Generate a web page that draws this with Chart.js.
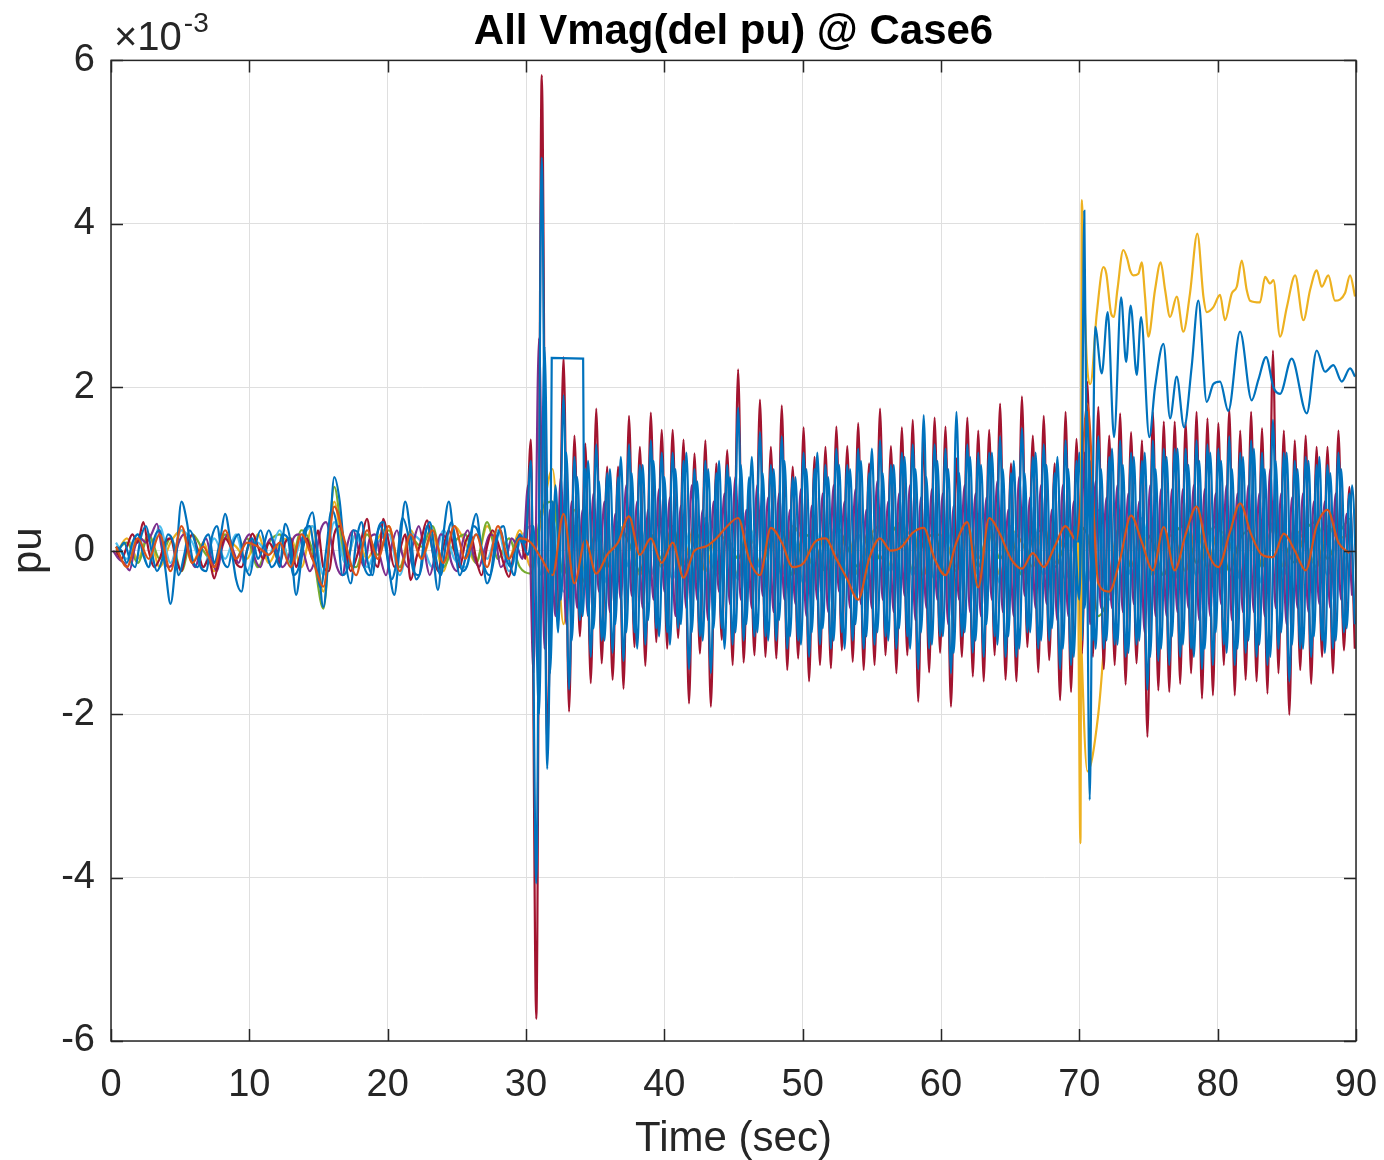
<!DOCTYPE html>
<html>
<head>
<meta charset="utf-8">
<script src="https://cdn.jsdelivr.net/npm/chart.js@4.4.1/dist/chart.umd.min.js"></script>
<style>
html, body { margin: 0; padding: 0; background: #fff; }
canvas { display: block; }
</style>
</head>
<body>
<canvas id="chart" width="1384" height="1160"></canvas>
<script>
// bus voltage deviations, in units of 1e-3 pu

// sample grids (sec)
const fastStep = 0.3945;   // half period of the ~1.27 Hz swing
const slowStep = 0.789;
const preStart = 0.36;
const burstStart = 30.35;
const swingStart = 33.5;

const xTicks = [0, 10, 20, 30, 40, 50, 60, 70, 80, 90];
const yTicks = [-6, -4, -2, 0, 2, 4, 6];

// dark red bus
const redPre = [
  0.0, -0.1, 0.05, 0.2, 0.1, 0.35, 0.0, -0.2, -0.1, 0.1,
  0.15, -0.1, -0.25, 0.05, 0.2, 0.0, -0.2, -0.1, -0.34, -0.05,
  0.15, 0.05, -0.15, -0.2, 0.0, 0.21, 0.05, -0.1, 0.1, 0.0,
  -0.15, 0.1, 0.15, -0.2, 0.0, 0.15, -0.1, 0.25, -0.2, -0.25,
  0.2, 0.3, 0.05, -0.25, -0.1, 0.15, 0.39, -0.05, -0.2, 0.39,
  0.1, -0.2, 0.0, 0.2, -0.36, -0.1, 0.15, 0.37, 0.0, -0.25,
  0.05, 0.25, 0.0, -0.2, 0.1, 0.2, -0.1, -0.3, 0.05, 0.25,
  0.1, -0.15, -0.32, 0.0, 0.2, -0.1
];
const redBurst = [1.36, -5.73, 5.82, -2.36, 0.5, -0.9, 2.37, -1.97];
const redSwing = [
  1.41, -1.05, 1.31, -1.62, 1.74, -1.38, 1.03, -1.58, 1.03, -1.69,
  1.65, -1.18, 1.27, -1.41, 1.69, -1.12, 1.48, -1.2, 1.48, -1.07,
  1.36, -1.87, 1.19, -1.26, 1.35, -1.91, 1.07, -1.09, 1.23, -1.4,
  2.22, -1.37, 0.7, -1.28, 1.85, -1.3, 1.27, -1.32, 1.78, -1.46,
  1.03, -1.32, 1.51, -1.6, 1.15, -1.4, 1.27, -1.44, 1.52, -1.22,
  1.28, -1.36, 1.56, -1.46, 1.07, -1.4, 1.74, -1.28, 1.28, -1.5,
  1.51, -1.28, 1.6, -1.85, 1.39, -1.49, 1.63, -1.25, 1.52, -1.91,
  1.13, -1.3, 1.63, -1.54, 1.47, -1.6, 1.48, -1.28, 1.8, -1.58,
  1.07, -1.6, 1.89, -1.18, 1.41, -1.49, 1.65, -1.34, 1.07, -1.83,
  1.7, -1.73, 1.37, -1.26, 2.07, -1.3, 1.76, -1.45, 1.41, -1.4,
  1.68, -1.64, 1.45, -1.38, 1.35, -2.28, 1.7, -1.71, 1.58, -1.73,
  1.58, -1.63, 1.58, -1.5, 1.7, -1.81, 1.62, -1.77, 1.56, -1.4,
  1.74, -1.77, 1.47, -1.58, 1.7, -1.6, 1.5, -1.75, 2.45, -1.5,
  1.47, -2.01, 1.35, -1.46, 1.41, -1.63, 1.27, -1.3, 1.27, -1.5,
  1.47, -1.22, 0.78, -1.2
];

// main blue bus
const blueAPre = [
  0.05, 0.0, -0.15, 0.1, 0.2, -0.05, -0.2, 0.15, 0.25, -0.2,
  -0.65, -0.1, 0.6, 0.35, -0.1, -0.2, 0.1, 0.2, -0.15, 0.1,
  0.45, 0.1, -0.35, -0.5, 0.0, 0.15, -0.1, 0.05, 0.25, 0.05,
  -0.2, 0.33, 0.1, -0.54, -0.1, 0.3, 0.47, -0.1, -0.69, 0.0,
  0.9, 0.6, -0.1, -0.4, 0.1, 0.35, -0.1, -0.3, 0.25, 0.35,
  -0.2, -0.54, 0.05, 0.6, 0.2, -0.35, -0.2, 0.3, 0.0, -0.48,
  0.2, 0.6, 0.1, -0.3, -0.1, 0.2, 0.45, 0.0, -0.4, -0.2,
  0.2, 0.3, -0.1, -0.3, 0.2, 0.1
];
const blueABurst = [1.1, -4.07, 4.81, -2.67, 0.6, -1.0, 1.9, -1.7];
const blueASwing = [
  1.15, -0.85, 1.0, -1.3, 1.3, -1.1, 0.95, -1.25, 0.9, -1.35,
  1.3, -1.0, 1.05, -1.15, 1.35, -0.95, 1.2, -1.0, 1.2, -0.95,
  1.1, -1.45, 1.0, -1.05, 1.1, -1.5, 0.95, -0.95, 1.05, -1.15,
  1.75, -1.1, 0.9, -1.05, 1.45, -1.05, 1.05, -1.1, 1.4, -1.2,
  0.9, -1.1, 1.2, -1.3, 1.0, -1.15, 1.05, -1.2, 1.25, -1.0,
  1.05, -1.1, 1.25, -1.2, 0.95, -1.15, 1.35, -1.05, 1.05, -1.2,
  1.2, -1.05, 1.3, -1.45, 1.66, -1.2, 1.3, -1.05, 1.25, -1.5,
  1.7, -1.05, 1.3, -1.25, 1.2, -1.3, 1.2, -1.05, 1.4, -1.3,
  0.95, -1.3, 1.5, -1.0, 1.15, -1.2, 1.3, -1.1, 0.95, -1.45,
  1.35, -1.4, 1.1, -1.1, 1.7, -1.1, 1.4, -1.2, 1.15, -1.15,
  1.35, -1.3, 1.2, -1.15, 1.1, -1.7, 1.35, -1.35, 1.25, -1.4,
  1.25, -1.3, 1.25, -1.2, 1.35, -1.45, 1.3, -1.4, 1.25, -1.15,
  1.4, -1.4, 1.2, -1.25, 1.35, -1.3, 1.2, -1.4, 1.6, -1.2,
  1.2, -1.6, 1.1, -1.2, 1.15, -1.3, 1.05, -1.1, 1.05, -1.2,
  1.2, -1.0, 0.7, -0.9
];

// second blue bus, lagging the first
const blueBLag = 0.2;
const blueBPre = [
  0.0, 0.1, -0.1, -0.2, 0.15, 0.3, 0.0, -0.25, -0.1, 0.2,
  0.1, -0.3, -0.05, 0.25, 0.1, -0.2, -0.25, 0.15, 0.3, -0.1,
  -0.2, 0.1, 0.2, -0.15, -0.3, 0.05, 0.25, 0.0, -0.2, -0.1,
  0.2, 0.15, -0.3, -0.2, 0.25, 0.3, -0.1, -0.45, 0.0, 0.5,
  0.3, -0.3, -0.2, 0.25, 0.2, -0.2, -0.3, 0.1, 0.3, 0.0,
  -0.35, -0.1, 0.4, 0.2, -0.25, -0.3, 0.15, 0.35, -0.05, -0.3,
  0.1, 0.35, 0.0, -0.25, -0.15, 0.3, 0.2, -0.2, -0.3, 0.1,
  0.25, -0.1, -0.2, 0.15, 0.1, -0.05
];
const blueBBurst = [0.3, -2.0, 2.5, -1.5, 0.8, -0.6, 1.2, -1.1];
const blueBSwing = [
  0.9, -0.8, 1.1, -0.95, 0.85, -1.1, 1.0, -0.9, 1.15, -1.0,
  0.95, -1.2, 1.05, -0.85, 1.1, -1.05, 0.9, -1.15, 1.0, -0.9,
  1.2, -1.0, 0.85, -1.1, 1.0, -0.95, 1.1, -1.2, 0.9, -1.0,
  1.05, -0.9, 1.15, -1.0, 0.95, -1.1, 1.0, -0.85, 1.1, -1.05,
  0.9, -1.15, 1.0, -1.0, 1.2, -0.95, 0.9, -1.1, 1.05, -1.2,
  1.0, -0.9, 1.1, -1.05, 1.25, -1.0, 0.95, -1.1, 1.05, -0.95,
  1.15, -1.2, 1.0, -1.0, 0.9, -1.15, 1.1, -1.05, 1.0, -1.25,
  0.95, -1.0, 1.15, -1.1, 1.05, -0.9, 1.2, -1.15, 1.0, -1.05,
  1.1, -1.2, 0.95, -1.0, 1.2, -1.1, 1.05, -0.95, 1.15, -1.2,
  1.0, -1.3, 1.2, -0.7, 1.1, -1.2, 1.0, -1.1, 1.25, -1.15,
  1.05, -1.25, 1.15, -1.1, 1.2, -1.3, 1.0, -1.2, 1.15, -1.05,
  1.25, -1.15, 1.05, -1.3, 1.1, -1.2, 1.2, -1.0, 1.1, -1.25,
  1.0, -1.2, 1.15, -1.1, 1.25, -1.15, 1.0, -1.3, 1.1, -1.0,
  1.2, -1.15, 1.0, -1.2, 1.1, -1.05, 1.15, -1.25, 0.95, -1.1,
  1.0, -0.95, 0.8, -0.85
];

// purple bus, leading
const purpleLead = -0.2;
const purplePre = [
  0.0, -0.1, -0.15, -0.24, 0.05, 0.15, 0.1, 0.2, 0.33, 0.0,
  -0.2, -0.15, 0.1, 0.2, -0.05, -0.2, 0.0, 0.15, -0.1, -0.25,
  0.05, 0.2, 0.0, -0.15, 0.1, 0.2, -0.1, -0.2, 0.05, 0.15,
  0.0, -0.2, -0.1, 0.15, 0.2, -0.05, -0.25, -0.1, 0.25, 0.35,
  0.1, -0.2, -0.3, 0.1, 0.25, 0.0, -0.2, 0.15, 0.2, -0.1,
  -0.3, 0.05, 0.25, -0.05, -0.2, 0.1, 0.3, 0.0, -0.3, -0.05,
  0.2, 0.15, -0.15, -0.25, 0.1, 0.25, -0.05, -0.2, 0.0, 0.2,
  0.15, -0.2, -0.1, 0.15, 0.05, -0.1
];
const purpleBurst = [0.8, -1.5, 2.6, -1.2, 0.5, -0.8, 0.9, -0.9];
const purpleSwing = [
  0.6, -0.7, 0.5, -0.8, 0.7, -0.5, 0.6, -0.75, 0.45, -0.6,
  0.8, -0.55, 0.6, -0.7, 0.5, -0.6, 0.75, -0.5, 0.65, -0.8,
  0.55, -0.7, 0.8, -0.6, 0.5, -0.85, 0.6, -0.5, 0.7, -0.65,
  0.9, -0.6, 0.5, -0.7, 0.8, -0.55, 0.65, -0.75, 0.7, -0.6,
  0.5, -0.65, 0.75, -0.8, 0.55, -0.6, 0.7, -0.75, 0.8, -0.5,
  0.6, -0.7, 0.75, -0.65, 0.5, -0.7, 0.85, -0.6, 0.6, -0.75,
  0.7, -0.55, 0.8, -0.85, 0.65, -0.7, 0.75, -0.6, 0.7, -0.9,
  0.55, -0.6, 0.8, -0.75, 0.7, -0.8, 0.65, -0.6, 0.85, -0.75,
  0.5, -0.8, 0.9, -0.55, 0.65, -0.7, 0.8, -0.65, 0.5, -0.85,
  0.8, -0.8, 0.6, -0.6, 1.2, -0.9, 0.85, -0.7, 0.65, -0.7,
  0.8, -0.75, 0.7, -0.65, 0.6, -1.0, 0.8, -0.8, 0.75, -0.8,
  0.75, -0.75, 0.75, -0.7, 0.8, -0.85, 0.75, -0.8, 0.7, -0.65,
  0.8, -0.85, 0.7, -0.75, 0.8, -0.75, 0.7, -0.8, 1.0, -0.7,
  0.7, -0.9, 0.65, -0.7, 0.7, -0.75, 0.6, -0.65, 0.6, -0.7,
  0.7, -0.6, 0.45, -0.55
];

// slower buses, one value per slowStep
const orangeVals = [
  0.05, -0.2, 0.15, -0.1, 0.2, -0.25, 0.3, -0.15, 0.05, -0.2,
  0.25, -0.1, 0.1, 0.05, -0.05, 0.1, -0.2, 0.2, -0.1, -0.44,
  0.54, 0.1, -0.3, 0.25, -0.1, 0.3, -0.25, 0.2, -0.1, 0.25,
  -0.15, 0.3, -0.1, 0.2, -0.2, 0.3, -0.1, 0.15, 0.1, -0.1,
  -0.3, 0.45, -0.4, 0.13, -0.28, -0.05, 0.1, 0.42, -0.05, 0.15,
  -0.15, 0.1, -0.33, 0.0, 0.05, 0.15, 0.3, 0.4, -0.1, -0.3,
  0.28, 0.1, -0.2, -0.15, 0.1, 0.15, -0.1, -0.35, -0.6, -0.1,
  0.15, 0.0, 0.05, 0.22, 0.28, -0.1, -0.3, 0.1, 0.35, -0.45,
  0.4, 0.2, -0.1, -0.22, -0.03, -0.2, 0.05, 0.3, 0.13, 1.8,
  -0.4, -0.5, -0.1, 0.43, 0.1, -0.24, 0.29, -0.24, 0.2, 0.54,
  0.0, -0.2, 0.2, 0.58, 0.2, -0.05, -0.08, 0.21, 0.0, -0.24,
  0.3, 0.5, 0.1, -0.03
];
const greenVals = [
  0.0, 0.1, -0.15, 0.2, -0.1, 0.15, -0.25, 0.2, 0.0, -0.15,
  0.2, -0.1, 0.15, -0.2, 0.1, 0.2, -0.15, 0.25, 0.0, -0.71,
  0.78, -0.1, -0.2, 0.2, -0.05, 0.25, -0.2, 0.15, 0.05, 0.3,
  -0.2, 0.1, 0.2, -0.15, 0.35, -0.1, 0.15, -0.2, -0.28, 0.5,
  0.6, -0.3, 0.3, -0.4, 0.25, -0.2, 0.3, 0.1, -0.25, 0.2,
  -0.1, 0.3, -0.2, 0.1, 0.25, -0.3, 0.15, -0.1, 0.3, -0.2,
  0.1, 0.25, -0.3, 0.2, 0.1, -0.25, 0.3, 0.05, -0.2, 0.25,
  -0.1, 0.2, 0.35, -0.25, 0.1, 0.2, -0.3, 0.15, 0.25, -0.2,
  0.3, -0.1, 0.2, -0.3, 0.15, 0.25, -0.2, 0.1, 0.3, 0.2,
  -0.8, -0.5, 0.3, -0.2, 0.25, 0.1, -0.3, 0.2, 0.3, -0.15,
  0.2, 0.3, -0.25, 0.15, 0.25, -0.2, 0.3, 0.1, -0.15, 0.25,
  0.35, -0.1, 0.2, 0.4
];
const cyanVals = [
  0.1, -0.1, 0.2, -0.2, 0.3, -0.15, 0.25, 0.1, -0.2, 0.15,
  -0.1, 0.2, -0.25, 0.1, -0.05, 0.25, -0.2, 0.15, 0.3, -0.3,
  0.35, -0.15, 0.2, -0.2, 0.1, 0.2, -0.3, 0.2, 0.1, -0.2,
  0.25, -0.1, -0.2, 0.2, -0.1, 0.25, -0.25, 0.1, 0.3, -0.3,
  0.4, -0.5, 0.3, -0.35, 0.2, -0.4, 0.35, -0.2, 0.3, -0.3,
  0.25, -0.35, 0.3, -0.25, 0.4, -0.3, 0.2, -0.35, 0.3, -0.2,
  0.35, -0.3, 0.2, -0.4, 0.3, -0.25, 0.35, -0.3, 0.2, -0.35,
  0.3, -0.25, 0.4, -0.3, 0.25, -0.35, 0.3, -0.2, 0.35, -0.3,
  0.25, -0.4, 0.3, -0.25, 0.35, -0.3, 0.2, -0.35, 0.3, -0.4,
  0.5, -0.6, 0.35, -0.3, 0.4, -0.25, 0.3, -0.35, 0.25, -0.3,
  0.4, -0.3, 0.3, -0.35, 0.25, -0.4, 0.35, -0.3, 0.3, -0.25,
  0.35, -0.3, 0.2, -0.25
];
const yellowVals = [
  -0.05, 0.15, -0.1, 0.2, -0.2, 0.1, 0.25, -0.15, 0.1, -0.25,
  0.15, 0.05, -0.1, 0.2, -0.15, 0.1, 0.15, -0.2, 0.3, -0.5,
  0.6, -0.15, 0.2, -0.1, 0.15, 0.3, -0.2, 0.25, -0.1, 0.2,
  -0.25, 0.3, 0.1, -0.15, 0.3, 0.05, -0.1, 0.25, -0.2, 0.4,
  1.0, -0.9, 0.5, -0.3, 0.2, -0.2, 0.25, 0.3, -0.3, 0.2,
  -0.2, 0.25, -0.15, 0.3, -0.25, 0.2, 0.1, -0.3, 0.25, -0.15,
  0.2, -0.25, 0.3, 0.1, -0.2, 0.25, -0.1, 0.2, -0.3, 0.15,
  0.3, -0.2, 0.1, 0.25, -0.3, 0.2, 0.15, -0.25, 0.3, -0.1,
  0.2, -0.3, 0.25, 0.1, -0.2, 0.3, -0.15, 0.2, 0.1, -2.7,
  -2.0, -0.4, 0.3, -0.2, 0.25, -0.3, 0.2, 0.15, -0.25, 0.3,
  -0.2, 0.25, 0.1, -0.3, 0.2, -0.15, 0.3, -0.2, 0.25, 0.1,
  -0.2, 0.3, 0.15, 0.2
];

// buses that shift level after the 70 s event
const yellowLateT = [
  69.9, 70.08, 70.18, 70.35, 70.55, 70.8, 71.26, 71.74, 71.95, 72.3,
  72.5, 72.75, 73.18, 73.47, 73.67, 73.91, 74.27, 74.51, 74.75, 74.99,
  75.47, 75.88, 76.2, 76.56, 77.04, 77.52, 78.0, 78.53, 78.97, 79.21,
  79.69, 80.17, 80.53, 81.02, 81.38, 81.74, 82.1, 82.34, 83.06, 83.43,
  83.79, 84.03, 84.51, 85.0, 85.6, 86.2, 86.68, 87.16, 87.52, 88.0,
  88.48, 89.2, 89.57, 89.93
];
const yellowLateV = [
  0.1, -3.58, 4.29, 3.2, 2.3, 2.04, 2.9, 3.47, 3.39, 2.9,
  2.86, 3.19, 3.68, 3.57, 3.43, 3.37, 3.39, 3.53, 3.11, 2.62,
  3.19, 3.53, 3.19, 2.86, 3.11, 2.68, 3.15, 3.88, 3.11, 2.92,
  2.98, 3.13, 2.82, 3.15, 3.23, 3.55, 3.19, 3.06, 3.04, 3.35,
  3.27, 3.31, 2.62, 2.98, 3.37, 2.82, 3.19, 3.43, 3.23, 3.37,
  3.06, 3.15, 3.37, 3.11
];
const blueLateT = [
  69.66, 70.0, 70.2, 70.36, 70.55, 70.75, 70.95, 71.14, 71.62, 72.05,
  72.51, 73.02, 73.38, 73.71, 74.15, 74.46, 75.06, 75.47, 76.08, 76.56,
  77.04, 77.57, 78.12, 78.6, 79.21, 79.69, 80.17, 80.77, 81.62, 82.46,
  82.94, 83.5, 84.03, 84.51, 85.35, 86.44, 87.16, 87.76, 88.36, 88.97,
  89.57, 89.93
];
const blueLateV = [
  0.3, -0.6, 1.2, 4.16, 0.4, -3.05, 0.2, 2.74, 2.17, 2.92,
  1.39, 3.1, 2.31, 3.0, 2.15, 2.86, 1.39, 2.0, 2.53, 1.62,
  2.13, 1.51, 2.25, 3.06, 1.82, 2.04, 2.07, 1.71, 2.68, 1.84,
  2.09, 2.37, 2.0, 1.92, 2.35, 1.68, 2.45, 2.19, 2.27, 2.07,
  2.23, 2.13
];

// bus held at a limit after the 30 s event
const blueHoldT = [31.75, 31.86, 34.13, 34.2, 34.5];
const blueHoldV = [-0.6, 2.36, 2.35, 0.3, -0.8];

const colors = {
  blue: '#0072BD', orange: '#D95319', yellow: '#EDB120', purple: '#7E2F8E',
  green: '#77AC30', cyan: '#4DBEEE', red: '#A2142F'
};
const fontFamily = '"Liberation Sans", Arial, Helvetica, sans-serif';
const ink = '#262626';

function onGrid(values, start, step, shift) {
  return values.map((v, i) => ({ x: start + (shift || 0) + i * step, y: v }));
}

function fastSeries(pre, burst, swing, shift) {
  return onGrid(pre, preStart, fastStep, shift)
    .concat(onGrid(burst, burstStart, fastStep, shift))
    .concat(onGrid(swing, swingStart, fastStep, shift));
}

function pairs(times, values) {
  return times.map((t, i) => ({ x: t, y: values[i] }));
}

function trace(data, color, smooth) {
  return {
    data: data,
    borderColor: color,
    borderWidth: 2.2,
    pointRadius: 0,
    fill: false,
    tension: smooth === false ? 0 : 0.4,
    cubicInterpolationMode: smooth === false ? 'default' : 'monotone'
  };
}

// inward tick marks and the closed axes box
const axesBox = {
  id: 'axesBox',
  afterDatasetsDraw(chart) {
    const { ctx, chartArea: a, scales } = chart;
    const len = 12;
    ctx.save();
    ctx.strokeStyle = ink;
    ctx.lineWidth = 1.5;
    ctx.beginPath();
    xTicks.forEach(v => {
      const px = Math.round(scales.x.getPixelForValue(v)) + 0.5;
      ctx.moveTo(px, a.bottom); ctx.lineTo(px, a.bottom - len);
      ctx.moveTo(px, a.top); ctx.lineTo(px, a.top + len);
    });
    yTicks.forEach(v => {
      const py = Math.round(scales.y.getPixelForValue(v)) + 0.5;
      ctx.moveTo(a.left, py); ctx.lineTo(a.left + len, py);
      ctx.moveTo(a.right, py); ctx.lineTo(a.right - len, py);
    });
    ctx.stroke();
    ctx.strokeRect(a.left, a.top, a.right - a.left, a.bottom - a.top);
    ctx.restore();
  }
};

// exponent note above the y axis
const exponentNote = {
  id: 'exponentNote',
  afterDraw(chart) {
    const { ctx, chartArea: a } = chart;
    ctx.save();
    ctx.fillStyle = ink;
    ctx.textBaseline = 'alphabetic';
    ctx.textAlign = 'left';
    ctx.font = '40px ' + fontFamily;
    const base = '\u00D710';
    ctx.fillText(base, a.left + 3, a.top - 10);
    const w = ctx.measureText(base).width;
    ctx.font = '28px ' + fontFamily;
    ctx.fillText('-3', a.left + 3 + w + 2, a.top - 28);
    ctx.restore();
  }
};

const datasets = [
  trace(pairs(blueLateT, blueLateV), colors.blue),
  trace(pairs(yellowLateT, yellowLateV), colors.yellow),
  trace(pairs(blueHoldT, blueHoldV), colors.blue, false),
  trace(onGrid(orangeVals, preStart, slowStep), colors.orange),
  trace(fastSeries(blueAPre, blueABurst, blueASwing), colors.blue),
  trace(fastSeries(blueBPre, blueBBurst, blueBSwing, blueBLag), colors.blue),
  trace(fastSeries(redPre, redBurst, redSwing), colors.red),
  trace(fastSeries(purplePre, purpleBurst, purpleSwing, purpleLead), colors.purple),
  trace(onGrid(cyanVals, preStart, slowStep), colors.cyan),
  trace(onGrid(greenVals, preStart, slowStep), colors.green),
  trace(onGrid(yellowVals, preStart, slowStep), colors.yellow)
];

new Chart(document.getElementById('chart'), {
  type: 'line',
  data: { datasets: datasets },
  plugins: [axesBox, exponentNote],
  options: {
    responsive: false,
    animation: false,
    devicePixelRatio: 1,
    events: [],
    layout: { padding: { left: 0, right: 28, top: 0, bottom: 0 } },
    plugins: {
      legend: { display: false },
      tooltip: { enabled: false },
      title: {
        display: true,
        fullSize: false,
        text: 'All Vmag(del pu) @ Case6',
        color: '#000',
        font: { family: fontFamily, size: 42, weight: 'bold' },
        padding: { top: 7, bottom: 3 }
      }
    },
    scales: {
      x: {
        type: 'linear',
        min: 0,
        max: 90,
        afterFit(scale) {
          scale.height = 119;
          scale.paddingLeft = 0;
          scale.paddingRight = 0;
        },
        afterBuildTicks(scale) { scale.ticks = xTicks.map(v => ({ value: v })); },
        ticks: { color: ink, font: { family: fontFamily, size: 38 }, padding: 22, maxRotation: 0 },
        grid: { color: '#dfdfdf', lineWidth: 1, drawTicks: false },
        border: { display: false },
        title: {
          display: true,
          text: 'Time (sec)',
          color: ink,
          font: { family: fontFamily, size: 42, lineHeight: 1.0 },
          padding: { top: 0, bottom: 0 }
        }
      },
      y: {
        type: 'linear',
        min: -6,
        max: 6,
        afterFit(scale) {
          scale.width = 111;
          scale.paddingTop = 0;
          scale.paddingBottom = 0;
        },
        afterBuildTicks(scale) { scale.ticks = yTicks.map(v => ({ value: v })); },
        ticks: { color: ink, font: { family: fontFamily, size: 38 }, padding: 16 },
        grid: { color: '#dfdfdf', lineWidth: 1, drawTicks: false },
        border: { display: false },
        title: {
          display: true,
          text: 'pu',
          color: ink,
          font: { family: fontFamily, size: 42 },
          padding: { top: 4, bottom: 0 }
        }
      }
    }
  }
});
</script>
</body>
</html>
